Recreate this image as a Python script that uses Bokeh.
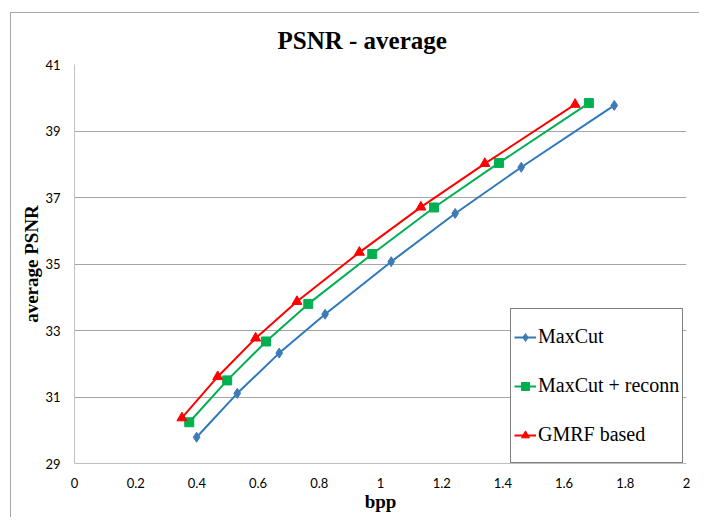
from bokeh.plotting import figure
from bokeh.models import FixedTicker, Legend, LegendItem
from bokeh.embed import file_html
from bokeh.resources import INLINE

# data
bpp_maxcut = [0.399, 0.532, 0.669, 0.819, 1.035, 1.244, 1.460, 1.764]
psnr_maxcut = [29.79, 31.11, 32.32, 33.49, 35.07, 36.52, 37.91, 39.77]
bpp_reconn = [0.375, 0.499, 0.626, 0.764, 0.973, 1.175, 1.387, 1.681]
psnr_reconn = [30.24, 31.50, 32.67, 33.80, 35.30, 36.70, 38.04, 39.84]
bpp_gmrf = [0.351, 0.468, 0.592, 0.727, 0.931, 1.132, 1.341, 1.636]
psnr_gmrf = [30.37, 31.61, 32.77, 33.87, 35.35, 36.71, 38.02, 39.80]

series_names = ["MaxCut", "MaxCut + reconn", "GMRF based"]
x_ticks = [0, 0.2, 0.4, 0.6, 0.8, 1.0, 1.2, 1.4, 1.6, 1.8, 2.0]
x_tick_labels = ["0", "0.2", "0.4", "0.6", "0.8", "1", "1.2", "1.4", "1.6", "1.8", "2"]
y_ticks = [29, 31, 33, 35, 37, 39, 41]
y_tick_labels = ["29", "31", "33", "35", "37", "39", "41"]

p = figure(width=689, height=505, x_range=(0, 2), y_range=(29, 41),
           output_backend="svg", toolbar_location=None,
           min_border_left=63, min_border_right=14, min_border_top=51, min_border_bottom=55)
p.styles = {"border-left": "1px solid #a6a6a6", "border-top": "1px solid #a6a6a6",
            "margin-left": "10px", "margin-top": "12px"}

p.title.text = "PSNR - average"
p.title.text_font = "Liberation Serif"
p.title.text_font_size = "25px"
p.title.text_font_style = "bold"
p.title.text_color = "#000000"
p.title.align = "left"
p.title.offset = 203
p.title.standoff = 21

p.outline_line_color = None
p.background_fill_color = "white"
p.border_fill_color = "white"

p.xgrid.grid_line_color = None
p.ygrid.grid_line_color = "#a6a6a6"
p.ygrid.grid_line_width = 1

p.xaxis.ticker = FixedTicker(ticks=x_ticks)
p.xaxis.major_label_overrides = {t: l for t, l in zip(x_ticks, x_tick_labels)}
p.yaxis.ticker = FixedTicker(ticks=y_ticks)
p.yaxis.major_label_overrides = {t: l for t, l in zip(y_ticks, y_tick_labels)}

for ax in (p.xaxis, p.yaxis):
    ax.axis_line_color = "#bfbfbf"
    ax.axis_line_width = 1
    ax.major_tick_line_color = None
    ax.minor_tick_line_color = None
    ax.major_label_text_font = "Lato"
    ax.major_label_text_font_size = "13px"
    ax.major_label_text_color = "#000000"
    ax.axis_label_text_font = "Liberation Serif"
    ax.axis_label_text_font_size = "19px"
    ax.axis_label_text_font_style = "bold"
    ax.axis_label_text_color = "#000000"

p.xaxis.axis_label = "bpp"
p.yaxis.axis_label = "average PSNR"
p.xaxis.major_label_standoff = 8
p.yaxis.major_label_standoff = 8
p.xaxis.axis_label_standoff = 0
p.yaxis.axis_label_standoff = 0

blue_l = p.line(bpp_maxcut, psnr_maxcut, line_color="#2e78bd", line_width=2)
blue_m = p.scatter(bpp_maxcut, psnr_maxcut, marker="diamond", size=10,
                   fill_color="#3f7ab8", line_color="#3f7ab8")
green_l = p.line(bpp_reconn, psnr_reconn, line_color="#00b050", line_width=2)
green_m = p.scatter(bpp_reconn, psnr_reconn, marker="square", size=9,
                    fill_color="#00b050", line_color="#00b050")
red_l = p.line(bpp_gmrf, psnr_gmrf, line_color="#ff0000", line_width=2)
red_m = p.scatter(bpp_gmrf, psnr_gmrf, marker="triangle", size=10,
                  fill_color="#ff0000", line_color="#ff0000")

legend = Legend(items=[
    LegendItem(label=series_names[0], renderers=[blue_l, blue_m]),
    LegendItem(label=series_names[1], renderers=[green_l, green_m]),
    LegendItem(label=series_names[2], renderers=[red_l, red_m]),
], location=(436, 0))
legend.label_text_font = "Liberation Serif"
legend.label_text_font_size = "20px"
legend.label_text_color = "#000000"
legend.border_line_color = "#000000"
legend.border_line_width = 1
legend.background_fill_color = "white"
legend.background_fill_alpha = 1
legend.padding = 3
legend.spacing = 0
legend.label_height = 49
legend.glyph_width = 22
legend.label_standoff = 2
legend.margin = 0
p.add_layout(legend)

open("out.html", "w").write(file_html(p, INLINE))
